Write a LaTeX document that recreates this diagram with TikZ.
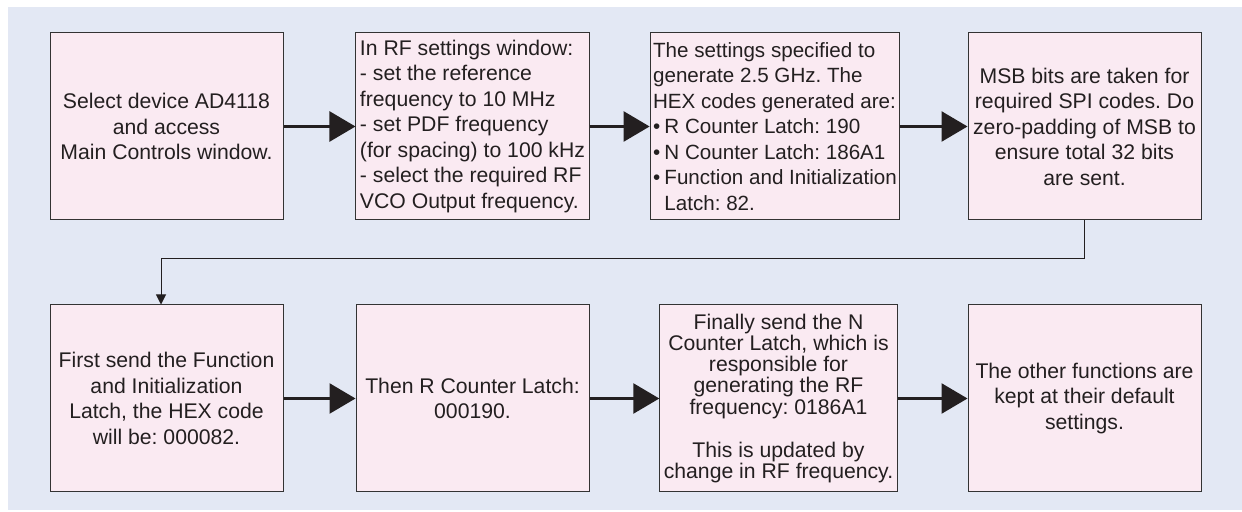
\documentclass[tikz,border=0pt]{standalone}
\usepackage{fontspec}
\setmainfont{Liberation Sans}
\usepackage{tikz}
\usetikzlibrary{positioning,calc,arrows.meta}
\usepackage{xcolor}
\definecolor{panel}{HTML}{E3E8F4}
\definecolor{boxfill}{HTML}{FAEAF2}
\definecolor{edge}{HTML}{333333}
\definecolor{ink}{HTML}{231F20}
\frenchspacing

\begin{document}
\begin{tikzpicture}[x=0.5pt,y=-0.5pt,
    stepbox/.style={rectangle,draw=edge,line width=0.5pt,fill=boxfill,minimum width=116.5pt,minimum height=93.5pt,
      inner sep=2pt,align=center,text=ink,font=\fontsize{10.6pt}{12.75pt}\selectfont},
    listbox/.style={stepbox,align=left},
    flow/.style={draw=ink,line width=1.3pt,-{Triangle[length=13pt,width=15pt]}},
    link/.style={draw=ink,line width=0.5pt,-{Triangle[length=5pt,width=5pt]}}]

\useasboundingbox (0,0) rectangle (1242,512);
\fill[panel] (8,7) rectangle (1242,510);

\node[stepbox] (select) at (166.5,126.5) {Select device AD4118\\and access\\Main Controls window.};
\node[listbox] (rfset) at (472.5,126.5) {In RF settings window:\\- set the reference\\frequency to 10 MHz\\- set PDF frequency\\(for spacing) to 100 kHz\\- select the required RF\\VCO Output frequency.};
\node[listbox,minimum width=123pt,inner xsep=1.5pt,font=\fontsize{10.3pt}{12.75pt}\selectfont] (hex) at (775,126.5) {The settings specified to\\generate 2.5 GHz. The\\HEX codes generated are:\\\textbullet\hspace{0.2em}R Counter Latch: 190\\\textbullet\hspace{0.2em}N Counter Latch: 186A1\\\textbullet\hspace{0.2em}Function and Initialization\\\hspace*{0.55em}Latch: 82.};
\node[stepbox] (msb) at (1084.5,126.5) {MSB bits are taken for\\required SPI codes. Do\\zero-padding of MSB to\\ensure total 32 bits\\are sent.};

\node[stepbox] (first) at (166.5,398.5) {First send the Function\\and Initialization\\Latch, the HEX code\\will be: 000082.};
\node[stepbox] (rlatch) at (472.5,398.5) {Then R Counter Latch:\\000190.};
\node[stepbox,font=\fontsize{10.6pt}{10.6pt}\selectfont] (nlatch) at (778.5,398.5) {Finally send the N\\Counter Latch, which is\\responsible for\\generating the RF\\frequency: 0186A1\\[11pt]This is updated by\\change in RF frequency.};
\node[stepbox] (other) at (1084.5,398.5) {The other functions are\\kept at their default\\settings.};

\draw[flow] (select) -- (rfset);
\draw[flow] (rfset) -- (hex);
\draw[flow] (hex) -- (msb);
\draw[flow] (first) -- (rlatch);
\draw[flow] (rlatch) -- (nlatch);
\draw[flow] (nlatch) -- (other);

% wrap to the second row
\coordinate (drop) at ($(first.north)+(-5.5,0)$);
\draw[link] (msb.south) -- ++(0,38) -| (drop);

\end{tikzpicture}
\end{document}
